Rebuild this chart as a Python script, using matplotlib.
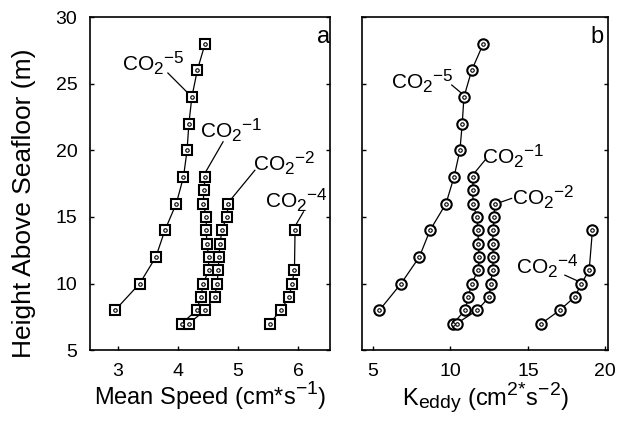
import matplotlib
matplotlib.use("Agg")
import matplotlib.pyplot as plt
import matplotlib._mathtext as mathtext

plt.rcParams['font.family'] = ['Liberation Sans', 'DejaVu Sans']
plt.rcParams['mathtext.fontset'] = 'custom'
plt.rcParams['mathtext.rm'] = 'Liberation Sans'
plt.rcParams['mathtext.it'] = 'Liberation Sans'
plt.rcParams['mathtext.default'] = 'regular'
# sub/superscripts in the original are nearly full size
mathtext.SHRINK_FACTOR = 0.82

# heights above seafloor (m)
h_long = [7, 8, 9, 10, 11, 12, 13, 14, 15, 16, 17, 18]
h_mid = [7, 8, 9, 10, 11, 12, 13, 14, 15, 16]
h_co25 = [8, 10, 12, 14, 16, 18, 20, 22, 24, 26, 28]
h_co24 = [7, 8, 9, 10, 11, 14]

# (a) mean speed, cm/s
speed_co21 = [4.06, 4.31, 4.38, 4.42, 4.51, 4.51, 4.48, 4.47, 4.47, 4.42, 4.43, 4.45]
speed_co22 = [4.18, 4.45, 4.61, 4.65, 4.67, 4.68, 4.70, 4.73, 4.81, 4.84]
speed_co25 = [2.95, 3.36, 3.63, 3.78, 3.97, 4.09, 4.15, 4.18, 4.23, 4.32, 4.45]
speed_co24 = [5.53, 5.71, 5.85, 5.90, 5.94, 5.95]

# (b) K_eddy, cm2/s2
keddy_co21 = [10.18, 10.94, 11.15, 11.37, 11.79, 11.86, 11.79, 11.79, 11.69, 11.47, 11.43, 11.47]
keddy_co22 = [10.40, 11.73, 12.51, 12.59, 12.72, 12.77, 12.72, 12.77, 12.81, 12.87]
keddy_co25 = [5.41, 6.81, 7.99, 8.68, 9.71, 10.23, 10.61, 10.76, 10.87, 11.37, 12.12]
keddy_co24 = [15.88, 17.06, 18.03, 18.46, 18.96, 19.17]

fig = plt.figure(figsize=(6.2, 4.26), dpi=100)
ax1 = fig.add_axes([0.145, 0.178, 0.387, 0.782])
ax2 = fig.add_axes([0.584, 0.178, 0.397, 0.782])


def draw(ax, series, marker):
    for x, h in series:
        ax.plot(x, h, color='black', lw=0.9, zorder=2)
        ax.plot(x, h, ls='none', marker=marker, ms=7.5, mfc='white', mec='black', mew=1.5, zorder=3)
        ax.plot(x, h, ls='none', marker='o', ms=2.5, mfc='white', mec='black', mew=0.8, zorder=4)


def label(ax, txt, tx, ty, sx, sy, px, py):
    ax.text(tx, ty, 'CO$_2$$^{-' + txt + '}$', fontsize=15, ha='center', va='center')
    ax.plot([sx, px], [sy, py], color='black', lw=0.9)


draw(ax1, [(speed_co21, h_long), (speed_co22, h_mid), (speed_co25, h_co25), (speed_co24, h_co24)], 's')
draw(ax2, [(keddy_co21, h_long), (keddy_co22, h_mid), (keddy_co25, h_co25), (keddy_co24, h_co24)], 'o')

label(ax1, '5', 3.58, 26.55, 3.83, 25.8, 4.23, 24)
label(ax1, '1', 4.89, 21.48, 4.75, 20.64, 4.45, 18.3)
label(ax1, '2', 5.77, 19.0, 5.28, 18.5, 4.86, 16.2)
label(ax1, '4', 5.98, 16.26, 6.09, 15.38, 5.95, 14.3)

label(ax2, '5', 8.16, 25.16, 10.08, 24.9, 10.8, 24.2)
label(ax2, '1', 14.03, 19.53, 12.23, 19.26, 11.55, 18.3)
label(ax2, '2', 16.0, 16.45, 13.95, 16.39, 13.1, 16.05)
label(ax2, '4', 16.26, 11.3, 17.39, 10.63, 18.3, 10.15)

ax1.text(6.42, 28.5, 'a', fontsize=17, ha='center', va='center')
ax2.text(19.45, 28.5, 'b', fontsize=17, ha='center', va='center')

ax1.set_xlim(2.53, 6.53)
ax2.set_xlim(4.29, 20.19)
for ax in (ax1, ax2):
    ax.set_ylim(5, 30)
    ax.set_yticks([5, 10, 15, 20, 25, 30])
    ax.tick_params(direction='in', length=3, width=1, labelsize=14, right=True, pad=9)
    for s in ax.spines.values():
        s.set_linewidth(1.2)
ax1.set_xticks([3, 4, 5, 6])
ax2.set_xticks([5, 10, 15, 20])
ax2.set_yticklabels([])

ax1.set_ylabel('Height Above Seafloor (m)', fontsize=19)
ax1.yaxis.set_label_coords(-0.225, 0.44)
ax1.set_xlabel('Mean Speed (cm*s$^{-1}$)', fontsize=17, labelpad=0)
ax2.set_xlabel('K$_{eddy}$ (cm$^{2{*}}$s$^{-2}$)', fontsize=17, labelpad=0)

fig.savefig('out.png', dpi=100)
